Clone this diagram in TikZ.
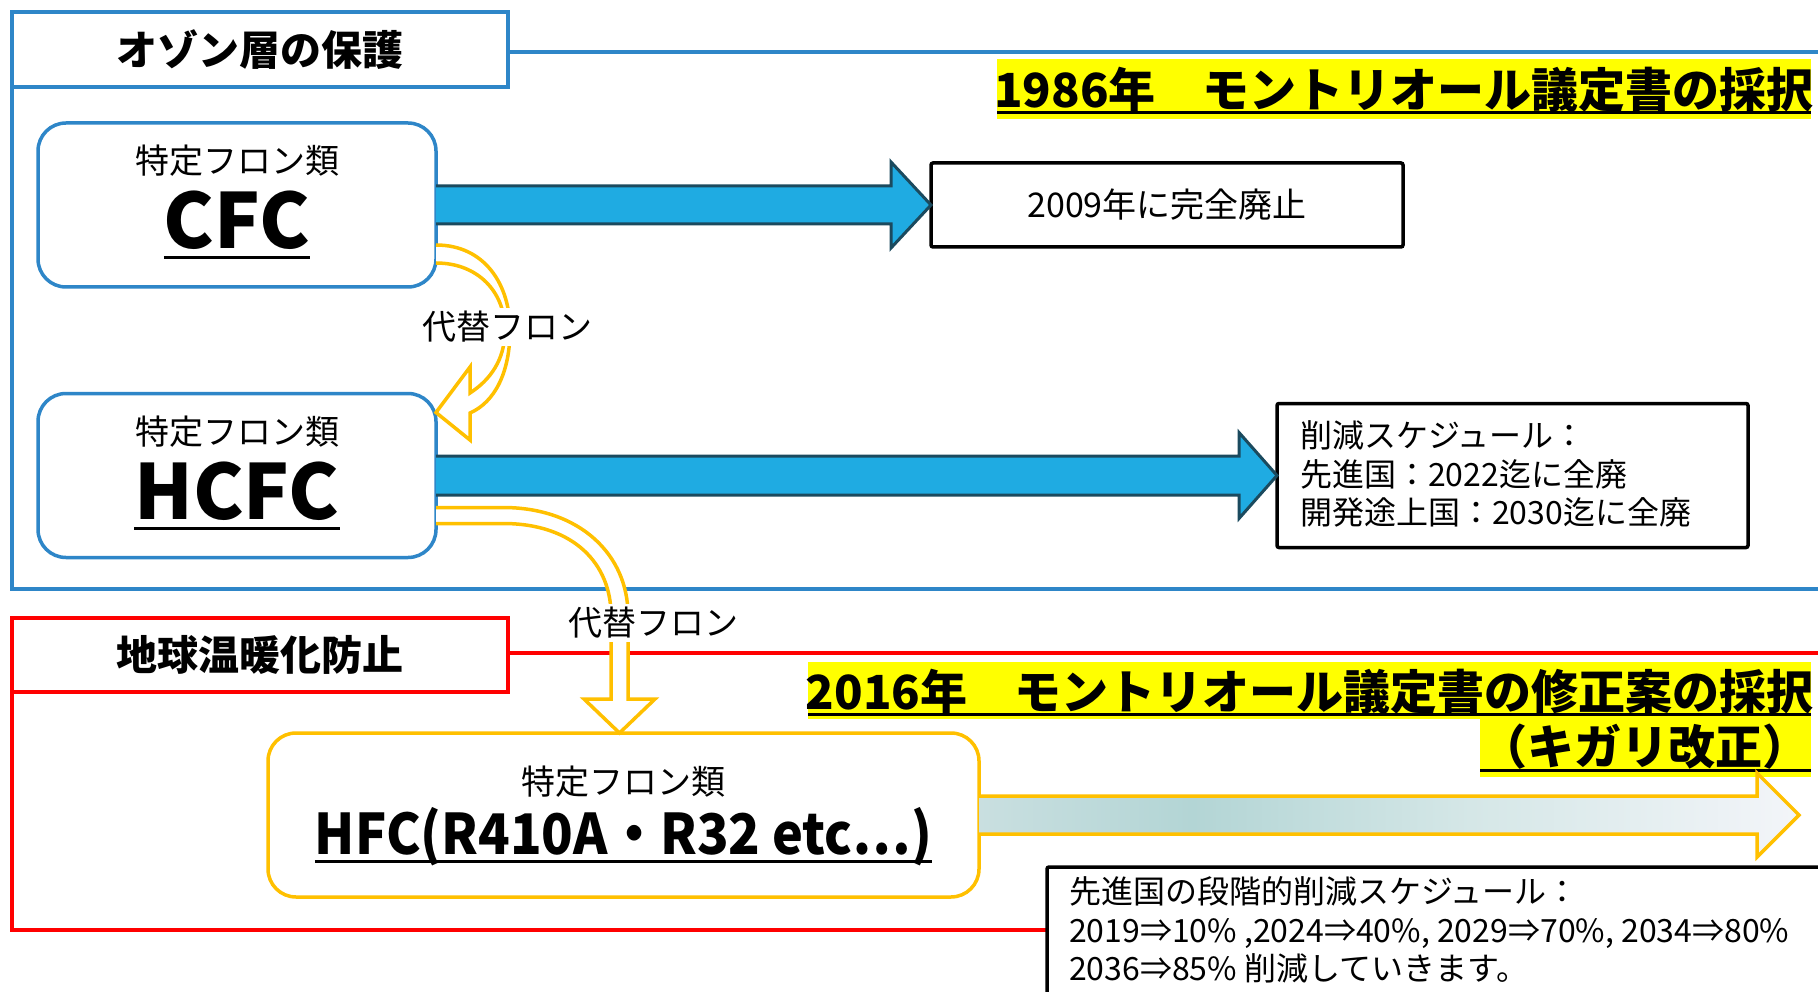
\documentclass[tikz,border=0pt]{standalone}
\usepackage{fontspec}
\setmainfont{Noto Sans CJK JP}
\usetikzlibrary{calc}
\definecolor{frameblue}{HTML}{2E86C8}
\definecolor{arrowfill}{HTML}{1FABE2}
\definecolor{arrowedge}{HTML}{1B4A5E}
\definecolor{ylw}{HTML}{FFC000}
\definecolor{hl}{HTML}{FFFF00}
\definecolor{redline}{HTML}{FF0000}
\definecolor{gA}{HTML}{C9DFE0}
\definecolor{gB}{HTML}{B3D5D5}
\definecolor{gC}{HTML}{D5E7E7}
\definecolor{gD}{HTML}{F3F5F9}
\pgfdeclarehorizontalshading{hfcgrad}{100bp}{color(0bp)=(gA); color(25bp)=(gA); color(38bp)=(gB); color(55bp)=(gC); color(75bp)=(gD); color(100bp)=(gD)}
\newcommand\jfs[1]{\fontsize{#1}{#1}\selectfont}
\tikzset{
  frameline/.style={line width=3.5},
  titlebox/.style={draw, fill=white, line width=3.5, minimum width=496, minimum height=75, font=\bfseries\jfs{41}},
  roundbox/.style={draw=frameblue, fill=white, line width=3.5, rounded corners=28, minimum width=398, minimum height=164},
  blackbox/.style={draw=black, fill=white, line width=3.5, rounded corners=2},
  hltext/.style={font=\bfseries\jfs{47}},
  ul/.style={line width=3},
  subnm/.style={font=\jfs{34}},
  bignm/.style={font=\bfseries\jfs{76}, anchor=base},
  bluearrow/.style={fill=arrowfill, draw=arrowedge, line width=3, line join=miter},
  curvedarrow/.style={fill=white, draw=ylw, line width=3.5, line join=miter},
  altlabel/.style={font=\jfs{34}, fill=white, inner sep=3},
  bodytext/.style={font=\fontsize{32}{38.5}\selectfont, align=left, anchor=west}
}
\begin{document}
\begin{tikzpicture}[x=1pt,y=-1pt, every node/.style={inner sep=0pt,outer sep=0pt}]
\useasboundingbox (0,0) rectangle (1818,992);
\clip (0,0) rectangle (1818,992);
\fill[white] (0,0) rectangle (1818,992);

% frames
\draw[frameline, draw=frameblue] (1830,52) -- (12,52) -- (12,589) -- (1830,589);
\node[titlebox, draw=frameblue] (ozone) at (260,49.5) {オゾン層の保護};
\draw[frameline, draw=redline] (1830,653) -- (12,653) -- (12,930) -- (1100,930);
\node[titlebox, draw=redline, minimum height=74] (warming) at (260,655) {地球温暖化防止};

% highlighted titles
\node[fill=hl, minimum width=814, minimum height=60] (hl1) at (1404,89) {};
\node[hltext] (t1) at (1404,90) {1986年　モントリオール議定書の採択};
\draw[ul] ($(hl1.south west)+(0,-6)$) -- ($(hl1.south east)+(0,-6)$);
\node[fill=hl, minimum width=1003, minimum height=57] (hl2) at (1309.5,690.5) {};
\node[hltext] (t2) at (1309.5,692) {2016年　モントリオール議定書の修正案の採択};
\draw[ul] ($(hl2.south west)+(0,-5)$) -- ($(hl2.south east)+(0,-5)$);
\node[fill=hl, minimum width=331, minimum height=58] (hl3) at (1645.5,748) {};
\node[hltext] (t3) at (1645,747) {（キガリ改正）};
\draw[ul] ($(hl3.south west)+(0,-7)$) -- ($(hl3.south east)+(0,-7)$);

% refrigerant boxes
\node[roundbox] (cfc) at (237,205) {};
\node[subnm] (cfcsub) at (237,161) {特定フロン類};
\node[bignm] (cfcname) at (237,249) {CFC};
\draw[ul] ($(cfcname.base west)+(0,9)$) -- ($(cfcname.base east)+(0,9)$);

\node[roundbox] (hcfc) at (237,475.5) {};
\node[subnm] (hcfcsub) at (237,431.5) {特定フロン類};
\node[bignm] (hcfcname) at (237,519.5) {HCFC};
\draw[ul] ($(hcfcname.base west)+(0,9)$) -- ($(hcfcname.base east)+(0,9)$);

\node[roundbox, draw=ylw, minimum width=711] (hfc) at (623.5,815) {};
\node[subnm] (hfcsub) at (623.5,782) {特定フロン類};
\node[font=\bfseries\jfs{56}, anchor=base] (hfcname) at (623.5,854) {\scalebox{0.93}[1]{HFC(R410A・R32 etc…)}};
\draw[ul] ($(hfcname.base west)+(0,7)$) -- ($(hfcname.base east)+(0,7)$);

% result boxes
\node[blackbox, minimum width=472, minimum height=84, font=\jfs{34}] (box1) at (1167,205) {2009年に完全廃止};
\node[blackbox, minimum width=471, minimum height=144] (box2) at (1512.5,475.5) {};
\node[bodytext] (box2txt) at (1300,474) {削減スケジュール：\\先進国：2022迄に全廃\\開発途上国：2030迄に全廃};
\node[blackbox, minimum width=793, minimum height=143] (box3) at (1443.5,938.5) {};
\node[bodytext] (box3txt) at (1069,930) {先進国の段階的削減スケジュール：\\2019⇒10\% ,2024⇒40\%, 2029⇒70\%, 2034⇒80\%\\2036⇒85\% 削減していきます。};

% blue block arrows
\filldraw[bluearrow] ($(cfc.east)+(0,-19)$) -- ($(box1.west)+(-40,-19)$) -- ($(box1.west)+(-40,-43)$) -- (box1.west) -- ($(box1.west)+(-40,43)$) -- ($(box1.west)+(-40,19)$) -- ($(cfc.east)+(0,19)$);
\filldraw[bluearrow] ($(hcfc.east)+(0,-19.5)$) -- ($(box2.west)+(-38,-19.5)$) -- ($(box2.west)+(-38,-43)$) -- (box2.west) -- ($(box2.west)+(-38,43)$) -- ($(box2.west)+(-38,19.5)$) -- ($(hcfc.east)+(0,19.5)$);

% gradient arrow
\coordinate (tip3) at (1799,815);
\shadedraw[shading=hfcgrad, draw=ylw, line width=3.5, line join=miter] ($(hfc.east)+(0,-19)$) -- ($(tip3)+(-42,-19)$) -- ($(tip3)+(-42,-42)$) -- (tip3) -- ($(tip3)+(-42,42)$) -- ($(tip3)+(-42,19)$) -- ($(hfc.east)+(0,19)$);

% curved substitute arrows
\coordinate (c1a) at ($(cfc.south east)+(0,-42)$);
\coordinate (c1b) at ($(cfc.south east)+(0,-24)$);
\coordinate (c1tip) at ($(hcfc.north east)+(0,19)$);
\filldraw[curvedarrow] (c1a) .. controls (485,245) and (510,285) .. (510,330) .. controls (510,372) and (495,402) .. (470,413) -- (470,440) -- (c1tip) -- (470,367) -- (470,393) .. controls (490,380) and (505,360) .. (505,330) .. controls (505,292) and (478,263) .. (c1b);

\coordinate (c2a) at ($(hcfc.south east)+(0,-50)$);
\coordinate (c2b) at ($(hcfc.south east)+(0,-34)$);
\coordinate (c2tip) at ($(hfc.north)+(-4,0)$);
\filldraw[curvedarrow] (c2a) -- (503,507.5) .. controls (580,507.5) and (628,555) .. (628,615) -- (628,699) -- (655,699) -- (c2tip) -- (584,699) -- (611,699) -- (611,615) .. controls (611,565) and (575,523.5) .. (503,523.5) -- (c2b);

\node[altlabel] (alt1) at (507,327) {代替フロン};
\node[altlabel] (alt2) at (653,623) {代替フロン};
\end{tikzpicture}
\end{document}
